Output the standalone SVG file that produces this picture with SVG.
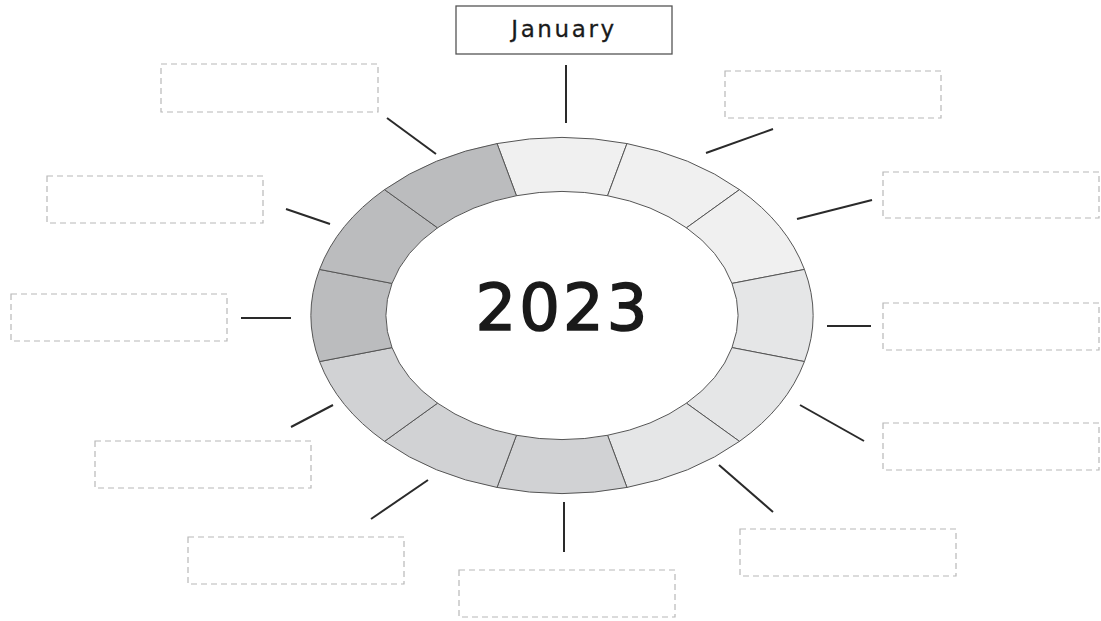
<svg xmlns="http://www.w3.org/2000/svg" width="1101" height="621" viewBox="0 0 1101 621">
<style>
.bg{fill:#ffffff}
.seg{stroke:#555555;stroke-width:1;stroke-linejoin:round}
.c1{fill:#f0f0f0}
.c2{fill:#e5e6e7}
.c3{fill:#d1d2d4}
.c4{fill:#bbbcbe}
.slot{fill:#ffffff;stroke:#b8b8b8;stroke-width:1.2;stroke-dasharray:6 4}
.main{fill:#ffffff;stroke:#555555;stroke-width:1.3}
.conn line{stroke:#2a2a2a;stroke-width:2;stroke-linecap:butt}
.lbl{font-family:"DejaVu Sans","Liberation Sans",sans-serif;fill:#1a1a1a;text-anchor:middle}
</style>
<rect class="bg" x="0" y="0" width="1101" height="621"/>

<g id="ring">
  <path id="seg-jan" class="seg c1" d="M497.04,143.57 A251,178 0 0 1 626.96,143.57 L607.55,195.73 A176,124 0 0 0 516.45,195.73 Z"/>
  <path id="seg-feb" class="seg c1" d="M626.96,143.57 A251,178 0 0 1 739.48,189.64 L686.45,227.82 A176,124 0 0 0 607.55,195.73 Z"/>
  <path id="seg-mar" class="seg c1" d="M739.48,189.64 A251,178 0 0 1 804.44,269.43 L732,283.41 A176,124 0 0 0 686.45,227.82 Z"/>
  <path id="seg-apr" class="seg c2" d="M804.44,269.43 A251,178 0 0 1 804.44,361.57 L732,347.59 A176,124 0 0 0 732,283.41 Z"/>
  <path id="seg-may" class="seg c2" d="M804.44,361.57 A251,178 0 0 1 739.48,441.36 L686.45,403.18 A176,124 0 0 0 732,347.59 Z"/>
  <path id="seg-jun" class="seg c2" d="M739.48,441.36 A251,178 0 0 1 626.96,487.43 L607.55,435.27 A176,124 0 0 0 686.45,403.18 Z"/>
  <path id="seg-jul" class="seg c3" d="M626.96,487.43 A251,178 0 0 1 497.04,487.43 L516.45,435.27 A176,124 0 0 0 607.55,435.27 Z"/>
  <path id="seg-aug" class="seg c3" d="M497.04,487.43 A251,178 0 0 1 384.52,441.36 L437.55,403.18 A176,124 0 0 0 516.45,435.27 Z"/>
  <path id="seg-sep" class="seg c3" d="M384.52,441.36 A251,178 0 0 1 319.56,361.57 L392,347.59 A176,124 0 0 0 437.55,403.18 Z"/>
  <path id="seg-oct" class="seg c4" d="M319.56,361.57 A251,178 0 0 1 319.56,269.43 L392,283.41 A176,124 0 0 0 392,347.59 Z"/>
  <path id="seg-nov" class="seg c4" d="M319.56,269.43 A251,178 0 0 1 384.52,189.64 L437.55,227.82 A176,124 0 0 0 392,283.41 Z"/>
  <path id="seg-dec" class="seg c4" d="M384.52,189.64 A251,178 0 0 1 497.04,143.57 L516.45,195.73 A176,124 0 0 0 437.55,227.82 Z"/>
</g>

<g id="year">
  <text class="lbl" x="563" y="330" font-size="64" letter-spacing="3" stroke="#1a1a1a" stroke-width="1.6">2023</text>
</g>

<g id="connectors" class="conn">
  <line x1="566" y1="65" x2="566" y2="123"/>
  <line x1="706" y1="153" x2="773" y2="129"/>
  <line x1="797" y1="219" x2="872" y2="200"/>
  <line x1="827" y1="326" x2="871" y2="326"/>
  <line x1="800" y1="405" x2="864" y2="441"/>
  <line x1="719" y1="465" x2="773" y2="512"/>
  <line x1="564" y1="502" x2="564" y2="552"/>
  <line x1="428" y1="480" x2="371" y2="519"/>
  <line x1="333" y1="405" x2="291" y2="427"/>
  <line x1="291" y1="318" x2="241" y2="318"/>
  <line x1="330" y1="224" x2="286" y2="209"/>
  <line x1="436" y1="154" x2="387" y2="118"/>
</g>

<g id="box-jan">
  <rect class="main" x="456" y="6" width="216" height="48"/>
  <text class="lbl" x="564" y="37" font-size="23" letter-spacing="2.6" stroke="#1a1a1a" stroke-width="0.3">January</text>
</g>
<g id="box-feb"><rect class="slot" x="725" y="71" width="216" height="47"/></g>
<g id="box-mar"><rect class="slot" x="883" y="172" width="216" height="46"/></g>
<g id="box-apr"><rect class="slot" x="883" y="303" width="216" height="47"/></g>
<g id="box-may"><rect class="slot" x="883" y="423" width="216" height="47"/></g>
<g id="box-jun"><rect class="slot" x="740" y="529" width="216" height="47"/></g>
<g id="box-jul"><rect class="slot" x="459" y="570" width="216" height="47"/></g>
<g id="box-aug"><rect class="slot" x="188" y="537" width="216" height="47"/></g>
<g id="box-sep"><rect class="slot" x="95" y="441" width="216" height="47"/></g>
<g id="box-oct"><rect class="slot" x="11" y="294" width="216" height="47"/></g>
<g id="box-nov"><rect class="slot" x="47" y="176" width="216" height="47"/></g>
<g id="box-dec"><rect class="slot" x="161" y="64" width="217" height="48"/></g>
</svg>
